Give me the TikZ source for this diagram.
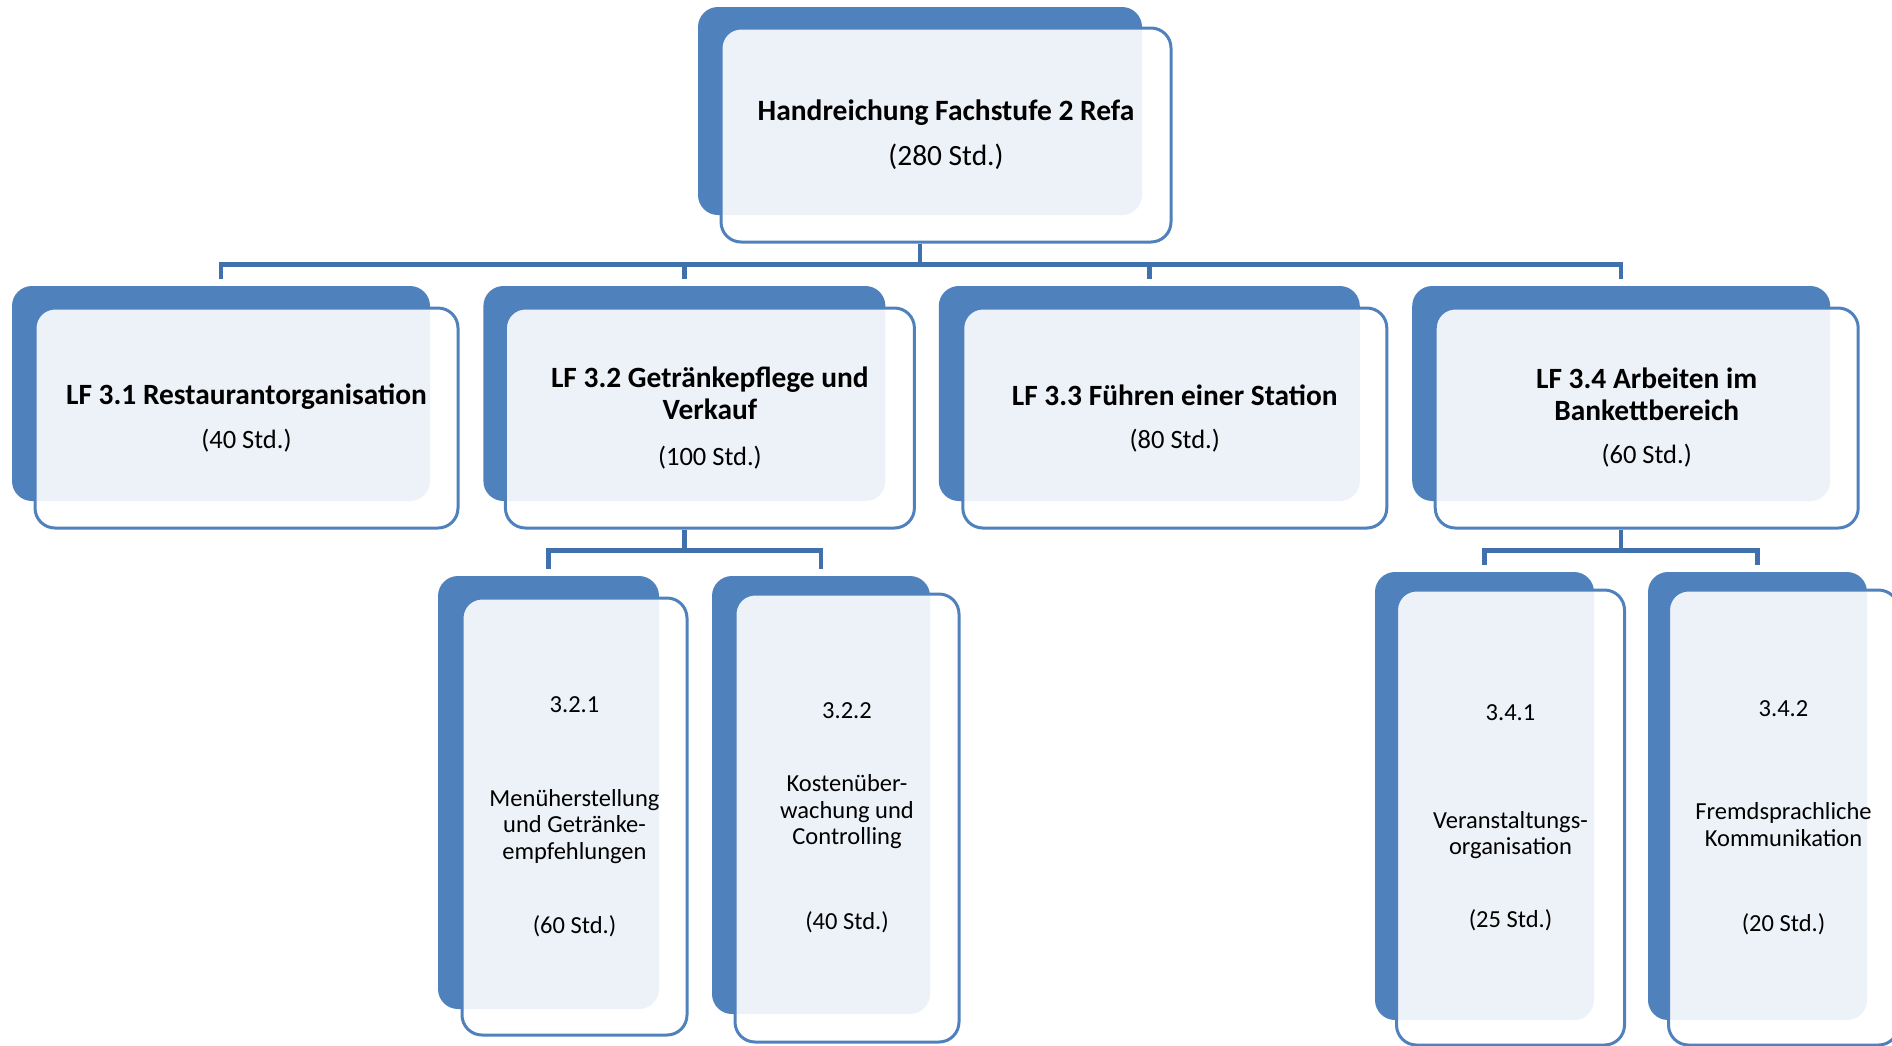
\documentclass[tikz,border=0pt]{standalone}
\usepackage{fontspec}
\setmainfont{Carlito}
\definecolor{hrblue}{HTML}{4F81BD}
\definecolor{hrline}{HTML}{4071AD}
\usetikzlibrary{positioning}

\begin{document}
\begin{tikzpicture}[x=1pt, y=-1pt,
  back/.style={fill=hrblue, rounded corners=20pt, inner sep=0pt},
  front/.style={draw=hrblue, line width=3pt, fill=white, fill opacity=0.9,
    text opacity=1, rounded corners=20pt, inner sep=0pt, align=center},
  lvtwo/.style={front, minimum height=220pt, font=\fontsize{26.5}{32}\selectfont},
  lvthree/.style={front, font=\fontsize{24.5}{26.5}\selectfont},
  conn/.style={draw=hrline, line width=4.5pt, shorten >=7pt}]
\useasboundingbox (0,0) rectangle (1892,1045);
\clip (0,0) rectangle (1892,1045);
% Kopf
\node[back, minimum width=444pt, minimum height=208pt] (topbk) at (920,111) {};
\node[front, minimum width=450pt, minimum height=214pt,
  font=\fontsize{29.4}{45}\selectfont] (top) at ([shift={(26,24)}]topbk.center)
  {{\fontsize{29.5}{45}\selectfont\bfseries Handreichung Fachstufe 2 Refa}\\(280 Std.)};
% Lernfelder
\node[back, minimum width=418pt, minimum height=215pt] (lf1bk) at (221,393.5) {};
\node[back, minimum width=402pt, minimum height=215pt, right=53pt of lf1bk] (lf2bk) {};
\node[back, minimum width=421pt, minimum height=215pt, right=53pt of lf2bk] (lf3bk) {};
\node[back, minimum width=418pt, minimum height=215pt, right=52pt of lf3bk] (lf4bk) {};
\node[lvtwo, minimum width=423pt] (lf1) at ([shift={(25.5,24.5)}]lf1bk.center)
  {{\fontsize{29.4}{32}\selectfont\bfseries LF 3.1 Restaurantorganisation}\\[12pt](40 Std.)};
\node[lvtwo, minimum width=409pt] (lf2) at ([shift={(25.5,24.5)}]lf2bk.center)
  {{\fontsize{29.4}{32}\selectfont\bfseries LF 3.2 Getränkepflege und}\\
   {\fontsize{29.4}{32}\selectfont\bfseries Verkauf}\\[14pt](100 Std.)};
\node[lvtwo, minimum width=424pt] (lf3) at ([shift={(25.5,24.5)}]lf3bk.center)
  {{\fontsize{29.4}{32}\selectfont\bfseries LF 3.3 Führen einer Station}\\[11pt](80 Std.)};
\node[lvtwo, minimum width=423pt] (lf4) at ([shift={(25.5,24.5)}]lf4bk.center)
  {{\fontsize{29.4}{32}\selectfont\bfseries LF 3.4 Arbeiten im}\\
   {\fontsize{29.4}{32}\selectfont\bfseries Bankettbereich}\\[11pt](60 Std.)};
% Teilbereiche
\node[back, minimum width=221pt, minimum height=433pt] (s321bk) at (548.5,792.5) {};
\node[back, minimum width=218pt, minimum height=438pt] (s322bk) at (821,795) {};
\node[back, minimum width=219pt, minimum height=448pt] (s341bk) at (1484.5,796) {};
\node[back, minimum width=219pt, minimum height=448pt] (s342bk) at (1757.5,796) {};
\node[lvthree, minimum width=225pt, minimum height=437pt] (s321)
  at ([shift={(26,24)}]s321bk.center)
  {3.2.1\\[67.5pt]Menüherstellung\\und Getränke-\\empfehlungen\\[47.5pt](60 Std.)};
\node[lvthree, minimum width=224pt, minimum height=448pt] (s322)
  at ([shift={(26,23)}]s322bk.center)
  {3.2.2\\[46.5pt]Kostenüber-\\wachung und\\Controlling\\[58.5pt](40 Std.)};
\node[lvthree, minimum width=228pt, minimum height=455pt] (s341)
  at ([shift={(26,21.5)}]s341bk.center)
  {3.4.1\\[81.5pt]Veranstaltungs-\\organisation\\[46.5pt](25 Std.)};
\node[lvthree, minimum width=230pt, minimum height=455pt] (s342)
  at ([shift={(26,21.5)}]s342bk.center)
  {3.4.2\\[76.5pt]Fremdsprachliche\\Kommunikation\\[58.5pt](20 Std.)};
% Verbindungen
\draw[conn] (topbk.south |- top.south) -- ++(0,21) -| (lf1bk.north);
\draw[conn] (topbk.south |- top.south) -- ++(0,21) -| (lf2bk.north);
\draw[conn] (topbk.south |- top.south) -- ++(0,21) -| (lf3bk.north);
\draw[conn] (topbk.south |- top.south) -- ++(0,21) -| (lf4bk.north);
\draw[conn] (lf2bk.south |- lf2.south) -- ++(0,21) -| (s321bk.north);
\draw[conn] (lf2bk.south |- lf2.south) -- ++(0,21) -| (s322bk.north);
\draw[conn] (lf4bk.south |- lf4.south) -- ++(0,21) -| (s341bk.north);
\draw[conn] (lf4bk.south |- lf4.south) -- ++(0,21) -| (s342bk.north);
\end{tikzpicture}
\end{document}
